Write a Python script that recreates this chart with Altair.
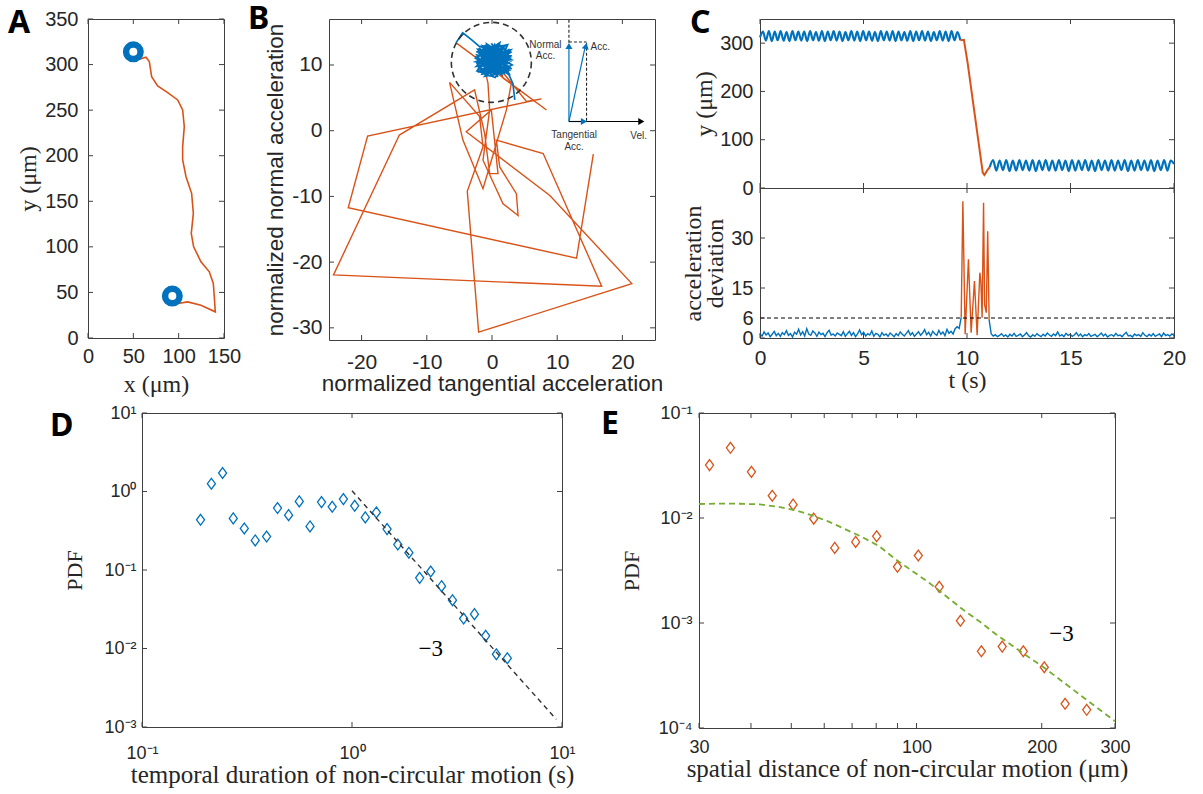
import altair as alt
import pandas as pd
import numpy as np

BLUE = "#0072BD"
ORANGE = "#D95319"
GREEN = "#77AC30"
INK = "#262626"
FRAME = "#404040"
SANS = "Liberation Sans"
SERIF = "Liberation Serif"
LETTER = "Noto Sans"

# ---------------- Panel A : trajectory ----------------
a_path_x = [56.6, 63.9, 67.6, 70.2, 76.8, 87.9, 98.9, 104.4, 106.2, 104.4, 104.4, 108.1, 114.3,
            116.2, 113.9, 116.5, 124.6, 133.8, 138.2, 139.3, 140.4, 124.6, 110.0, 98.9, 102.6]
a_path_y = [305.9, 308.1, 303.3, 286.8, 276.6, 269.2, 261.2, 250.2, 231.9, 209.9, 195.3, 177.0, 158.7,
            136.7, 114.7, 100.1, 83.6, 72.6, 59.8, 45.2, 28.7, 36.0, 39.6, 37.8, 48.8]
a_ring_x = [50, 93]
a_ring_y = [314, 46]
a_xticks = [0, 50, 100, 150]
a_yticks = [0, 50, 100, 150, 200, 250, 300, 350]

# ---------------- Panel B : acceleration plane ----------------
b_orange_x = [-5.49, 8.36, 1.69, 0.92, -1.38, -0.62, -0.36, -1.38, 1.69, 4.0, 3.74, 1.18, 0.67, 7.85,
              16.82, -24.31, -14.21, -2.67, -1.13, -0.36, 0.92, -0.10, -3.95, 8.87, 21.44, -2.05,
              -3.79, -1.38, -1.90, -6.51, -4.46, -1.38, 0.67, 2.21, 2.97, 0.92, 5.28, 7.59, -19.08,
              -22.05, 12.97, 15.54]
b_orange_y = [13.37, 3.16, 8.01, 10.82, 10.56, 7.24, 3.16, -4.49, -11.12, -12.91, -9.59, -5.51, -1.43,
              -3.47, -23.67, -21.94, -0.66, 6.22, -0.41, -6.53, -6.53, 3.16, -0.15, -9.85, -23.27,
              -30.66, -9.23, -2.45, 2.14, 7.35, -1.43, -8.83, -1.94, 3.16, 7.24, 9.80, 4.44, 4.85,
              -0.82, -11.73, -19.39, -3.57]
b_blue_x = [3.5, 3.2, 2.6, -2.0, 2.6, -1.5, 1.8, -2.4, 3.0, -0.8, 0.9, -2.2, 2.8, -1.0, 2.0, -2.5,
            1.2, -0.2, 3.1, -1.8, 2.3, -2.1, 0.4, 1.5, -1.2, 2.9, -0.6, -2.3, 2.4, 0.0, 1.9, -1.6,
            2.7, -0.4, 1.0, -2.0, 2.2, 0.6, -1.3, 3.0, -0.9, 1.6, -2.4, 0.8, 2.5, -1.1, 1.3, -0.3,
            2.0, -1.7, 0.2, 1.4, -1.9, -3.2, -4.5, -5.5]
b_blue_y = [4.7, 7.2, 8.5, 11.8, 9.2, 8.6, 12.9, 10.2, 10.8, 13.2, 8.2, 12.4, 11.9, 9.0, 8.7, 11.0,
            13.4, 8.4, 10.0, 12.9, 9.6, 9.4, 13.1, 8.4, 11.6, 12.3, 8.8, 11.5, 10.4, 12.8, 9.0, 10.0,
            11.2, 12.0, 9.3, 10.8, 12.6, 8.6, 13.0, 9.4, 10.2, 11.6, 12.0, 12.2, 8.9, 8.3, 10.9, 11.3,
            10.0, 11.2, 9.7, 12.4, 12.8, 13.9, 14.9, 13.4]
b_blob_x = [2.1, -2.3, 0.5, 2.9, -1.4, 1.1, -2.6, 2.6, -0.1, 1.7, -2.2, 3.0, -0.7, 0.3, 2.4, -1.9,
            1.5, -0.5, 2.8, -2.4, 0.9, 1.8, -1.2, 2.2, -2.0, 0.1, 2.7, -1.5, 1.2, -0.8, 2.5, -2.5,
            0.7, 1.9, -1.0, 3.0, -2.1, 0.4, 2.3, -1.6]
b_blob_y = [13.0, 9.1, 8.1, 11.4, 12.9, 9.5, 11.3, 8.7, 13.3, 10.4, 8.9, 12.0, 10.6, 8.6, 13.1, 12.2,
            8.5, 9.9, 10.3, 9.8, 12.7, 11.0, 8.6, 9.3, 12.6, 10.9, 12.4, 8.9, 13.2, 11.8, 9.6, 10.5,
            11.7, 8.8, 13.1, 10.6, 11.9, 9.2, 12.1, 10.7]
b_circle_x = [-0.1]
b_circle_y = [10.4]
b_xticks = [-20, -10, 0, 10, 20]
b_yticks = [-30, -20, -10, 0, 10]
# inset sketch (segments in data units of panel B)
ins_x1 = [11.8, 11.8, 14.5, 11.8, 11.8, 11.8, 11.8]
ins_y1 = [13.4, 13.5, 13.4, 1.4, 1.4, 1.4, 1.4]
ins_x2 = [11.8, 14.5, 14.5, 11.8, 14.3, 14.0, 22.8]
ins_y2 = [16.9, 13.5, 1.4, 12.8, 12.8, 1.4, 1.4]
ins_kind = ["dash", "dash", "dash", "blue", "blue", "blue", "black"]
head_x = [11.8, 14.4, 14.1, 22.9]
head_y = [12.9, 12.9, 1.4, 1.4]
head_shape = ["triangle-up", "triangle-up", "triangle-right", "triangle-right"]
head_angle = [0, 12, 0, 0]
head_kind = ["blue", "blue", "blue", "black"]
ins_text = ["Normal", "Acc.", "Acc.", "Tangential", "Acc.", "Vel."]
ins_tx = [8.2, 8.2, 16.6, 12.6, 12.6, 22.5]
ins_ty = [13.1, 11.3, 12.7, -0.7, -2.5, -0.8]

# ---------------- Panel C : time series ----------------
c_wave1 = [312, 324, 305, 325, 304, 324, 306, 325, 305, 323,
           304, 325, 306, 324, 305, 324, 304, 325, 306, 323,
           305, 325, 304, 324, 306, 325, 305, 324, 304, 323,
           306, 325, 305, 324, 304, 325, 306, 324, 305, 323,
           304, 325, 306, 324, 305, 325, 304, 324, 306, 323,
           305, 325, 304, 324, 306, 325, 305, 324, 304, 323,
           306, 325, 305, 324, 304, 325, 306, 323, 306]
c_wave1_t = [0.0, 9.68]
c_drop_t = [9.68, 9.85, 10.03, 10.76, 10.84, 11.0, 11.1]
c_drop_y = [306, 307, 259, 32, 27, 38, 43]
c_wave2 = [43, 58, 36, 57, 37, 58, 35, 57, 36, 58,
           37, 57, 36, 58, 35, 57, 37, 58, 36, 57,
           36, 58, 37, 57, 35, 58, 36, 57, 37, 58,
           36, 57, 35, 58, 37, 57, 36, 58, 36, 57,
           37, 58, 35, 57, 36, 58, 37, 57, 36, 58,
           35, 57, 37, 58, 36, 57, 50]
c_wave2_t = [11.1, 20.0]
c_noise1 = [1.2, 0.6, 1.8, 0.9, 1.5, 0.4, 1.1, 2.0, 0.7, 1.4, 0.5, 1.6, 1.0, 2.2, 0.8, 1.3, 0.3, 1.7,
            1.1, 2.6, 0.9, 1.9, 0.6, 2.8, 1.2, 0.8, 2.1, 1.5, 0.5, 1.8, 1.0, 1.4, 0.4, 1.6, 2.3, 0.9,
            1.2, 0.6, 1.5, 1.1, 0.7, 1.9, 0.5, 1.3, 2.0, 0.8, 1.6, 0.4, 1.2, 2.4, 1.0, 1.7, 0.6, 1.3,
            0.9, 2.1, 0.5, 1.4, 1.1, 0.3, 1.6, 0.8, 1.2, 0.5, 1.5, 1.0, 0.4, 1.3, 0.7, 1.8, 1.1, 0.6,
            1.4, 2.2, 0.9, 1.6, 0.5, 1.2, 1.9, 0.8, 1.5, 2.5, 1.0, 1.7, 0.6, 2.0, 1.3, 0.8, 2.3, 1.1,
            1.8, 0.7, 2.6, 1.4, 2.0, 1.2, 2.8, 3.4, 2.9, 6.2]
c_noise1_t = [0.0, 9.72]
c_spike_t = [9.72, 9.80, 9.91, 10.07, 10.20, 10.36, 10.49, 10.62, 10.67, 10.73, 10.80, 10.85, 10.93,
             11.00, 11.07]
c_spike_v = [6.2, 41, 1.1, 23.6, 1.6, 17.1, 0.8, 19.6, 17.0, 6.1, 40.6, 10.0, 7.6, 32.0, 5.4]
c_noise2 = [5.4, 1.2, 0.6, 1.0, 0.4, 0.8, 1.3, 0.5, 0.9, 0.3, 1.1, 0.6, 1.4, 0.5, 0.8, 1.2, 0.4, 0.9,
            1.6, 0.7, 0.3, 1.0, 0.5, 1.3, 0.8, 0.4, 1.1, 0.6, 1.5, 0.9, 0.5, 1.2, 0.7, 1.8, 0.6, 1.0,
            0.4, 1.4, 0.8, 1.1, 0.5, 0.9, 1.6, 0.6, 1.2, 0.4, 1.0, 0.7, 1.3, 0.5, 0.8, 1.1, 0.4, 0.9,
            1.5, 0.6, 1.2, 0.3, 0.8, 1.0, 0.5, 1.4, 0.7, 0.9, 0.4, 1.1, 1.7, 0.6, 0.8, 0.3, 1.2, 0.7,
            1.0, 0.5, 1.6, 0.8, 0.4, 1.1, 0.6, 1.3, 0.5, 0.9, 1.2, 0.4, 1.5, 0.7, 1.0, 0.6, 1.2, 0.8]
c_noise2_t = [11.07, 20.0]
c_thresh_t = [0, 20]
c_thresh_v = [6, 6]
c_xticks = [0, 5, 10, 15, 20]
c_top_yticks = [0, 100, 200, 300]
c_bot_yticks = [0, 6, 15, 30]

# ---------------- Panel D : duration PDF ----------------
d_x = [0.190, 0.214, 0.242, 0.272, 0.307, 0.346, 0.392, 0.442, 0.499, 0.561, 0.631, 0.716, 0.805,
       0.910, 1.03, 1.157, 1.306, 1.469, 1.652, 1.866, 2.10, 2.37, 2.67, 3.01, 3.40, 3.83, 4.33,
       4.87, 5.49]
d_y = [0.436, 1.256, 1.72, 0.454, 0.338, 0.238, 0.267, 0.615, 0.500, 0.748, 0.359, 0.733, 0.639,
       0.800, 0.658, 0.468, 0.541, 0.332, 0.211, 0.166, 0.0794, 0.0957, 0.0622, 0.0412, 0.0241,
       0.0274, 0.0145, 0.00845, 0.00752]
d_fit_x = [1.0, 9.4]
d_fit_y = [1.02, 0.00125]
d_xticks = [0.1, 1, 10]
d_xlabels = ["10\u207b\u00b9", "10\u2070", "10\u00b9"]
d_yticks = [0.001, 0.01, 0.1, 1, 10]
d_ylabels = ["10\u207b\u00b3", "10\u207b\u00b2", "10\u207b\u00b9", "10\u2070", "10\u00b9"]
d_note = ["\u22123"]
d_note_x = [2.37]
d_note_y = [0.0098]

# ---------------- Panel E : distance PDF ----------------
e_x = [31.8, 35.7, 40.1, 45.0, 50.5, 56.6, 63.6, 71.4, 80.2, 90.0, 101, 113.4, 127.5, 143.2, 160.7,
       180.6, 202.8, 227.6, 256.5]
e_y = [0.0319, 0.0466, 0.0275, 0.0163, 0.0134, 0.00986, 0.00519, 0.00592, 0.00670, 0.00343, 0.00439,
       0.00221, 0.00105, 0.000538, 0.000596, 0.000538, 0.000379, 0.000170, 0.000149]
e_fit_x = [30.0, 33.6, 37.5, 41.9, 46.7, 51.2, 56.1, 61.5, 67.5, 74.0, 81.2, 89.1, 97.7, 107.2,
           117.6, 129.0, 141.5, 155.2, 170.3, 186.8, 202.8, 227.6, 256.5, 300.0]
e_fit_y = [0.01360, 0.01370, 0.01367, 0.01349, 0.01274, 0.01183, 0.01061, 0.00923, 0.00780, 0.00659,
           0.00541, 0.00404, 0.00313, 0.00242, 0.00181, 0.00135, 0.00104, 0.00078, 0.000604,
           0.000468, 0.000375, 0.000265, 0.000185, 0.000116]
e_xticks = [30, 100, 200, 300]
e_minor = [30, 40, 50, 60, 70, 80, 90, 100, 200, 300]
e_yticks = [0.0001, 0.001, 0.01, 0.1]
e_ylabels = ["10\u207b\u2074", "10\u207b\u00b3", "10\u207b\u00b2", "10\u207b\u00b9"]
e_note = ["\u22123"]
e_note_x = [223]
e_note_y = [0.000787]


# ---------------- helpers ----------------
def sup_expr(vals, labs):
    expr = "'" + labs[-1] + "'"
    for v, lab, vn in reversed(list(zip(vals[:-1], labs[:-1], vals[1:]))):
        thr = (v * vn) ** 0.5
        expr = "datum.value < %g ? '%s' : (%s)" % (thr, lab, expr)
    return expr


def axis(values, title, lsize, tsize, tfont, lpad, tpad, **kw):
    return alt.Axis(values=values, title=title, labelFont=SANS, labelFontSize=lsize, labelColor=INK,
                    titleFont=tfont, titleFontSize=tsize, titleColor=INK, titleFontWeight="normal",
                    ticks=False, domain=False, grid=False, labelOverlap=False, labelFlush=False,
                    labelPadding=lpad, titlePadding=tpad, **kw)


NOAXIS = dict(labels=False, ticks=False, domain=False, grid=False, title="")


def X(f, sc, ax=None):
    return alt.X(f, scale=sc, axis=ax) if ax is not None else alt.X(f, scale=sc)


def Y(f, sc, ax=None):
    return alt.Y(f, scale=sc, axis=ax) if ax is not None else alt.Y(f, scale=sc)


def inward_ticks(xvals, yvals, xsc, ysc, w, h, L=5):
    out = []
    if xvals is not None:
        d = pd.DataFrame({"tv": xvals})
        for y1, y2 in ((h, h - L), (0, L)):
            out.append(alt.Chart(d).mark_rule(color=FRAME, strokeWidth=1).encode(
                x=X("tv:Q", xsc), y=alt.value(y1), y2=alt.value(y2)))
    if yvals is not None:
        d = pd.DataFrame({"tv": yvals})
        for x1, x2 in ((0, L), (w - L, w)):
            out.append(alt.Chart(d).mark_rule(color=FRAME, strokeWidth=1).encode(
                y=Y("tv:Q", ysc), x=alt.value(x1), x2=alt.value(x2)))
    return out


def letter(txt, dx, dy):
    return alt.TitleParams(text=txt, anchor="start", frame="group", orient="top", offset=0,
                           dx=dx, dy=dy, baseline="alphabetic", font=LETTER, fontSize=32,
                           fontWeight="bold", color="black")


# ---------------- Panel A chart ----------------
WA, HA = 136, 319
a_xs = alt.Scale(domain=[0, 150], nice=False, zero=False)
a_ys = alt.Scale(domain=[0, 350], nice=False, zero=False)
a_df = pd.DataFrame({"x": a_path_x, "y": a_path_y, "i": list(range(len(a_path_x)))})
a_line = alt.Chart(a_df).mark_line(color=ORANGE, strokeWidth=1.6).encode(
    x=X("x:Q", a_xs, axis(a_xticks, "x (\u03bcm)", 20, 24, SERIF, 8, 6)),
    y=Y("y:Q", a_ys, axis(a_yticks, "y (\u03bcm)", 20, 24, SERIF, 10, 4)),
    order="i:Q")
a_rings = alt.Chart(pd.DataFrame({"x": a_ring_x, "y": a_ring_y})).mark_point(
    shape="circle", filled=False, color=BLUE, strokeWidth=6.5, size=210, opacity=1).encode(
    x=X("x:Q", a_xs), y=Y("y:Q", a_ys))
panelA = alt.layer(a_line, a_rings, *inward_ticks(a_xticks, a_yticks, a_xs, a_ys, WA, HA)).properties(
    width=WA, height=HA, title=letter("A", -80, 56))

# ---------------- Panel B chart ----------------
WB, HB = 326, 321
b_xs = alt.Scale(domain=[-25, 25], nice=False, zero=False)
b_ys = alt.Scale(domain=[-31.85, 17], nice=False, zero=False)
hyph = "replace(datum.label, '\u2212', '-')"
b_or = pd.DataFrame({"x": b_orange_x, "y": b_orange_y, "i": list(range(len(b_orange_x)))})
bx = b_blue_x[:30] + b_blob_x + b_blue_x[30:]
by = b_blue_y[:30] + b_blob_y + b_blue_y[30:]
b_bl = pd.DataFrame({"x": bx, "y": by, "i": list(range(len(bx)))})
b_orange = alt.Chart(b_or).mark_line(color=ORANGE, strokeWidth=1.4).encode(
    x=X("x:Q", b_xs, axis(b_xticks, "normalized tangential acceleration", 21, 22.5, SANS, 11, 0,
                          labelExpr=hyph)),
    y=Y("y:Q", b_ys, axis(b_yticks, "normalized normal acceleration", 21, 22.5, SANS, 7, 4,
                          labelExpr=hyph)),
    order="i:Q")
b_blue = alt.Chart(b_bl).mark_line(color=BLUE, strokeWidth=1.7).encode(
    x=X("x:Q", b_xs), y=Y("y:Q", b_ys), order="i:Q")
b_circ = alt.Chart(pd.DataFrame({"x": b_circle_x, "y": b_circle_y})).mark_point(
    shape="circle", filled=False, color="#333333", strokeWidth=1.6, strokeDash=[6, 4], size=6400,
    opacity=1).encode(x=X("x:Q", b_xs), y=Y("y:Q", b_ys))
ins_df = pd.DataFrame({"x": ins_x1, "y": ins_y1, "x2": ins_x2, "y2": ins_y2, "k": ins_kind})
ins_dash = alt.Chart(ins_df).transform_filter("datum.k == 'dash'").mark_rule(
    color="#222222", strokeWidth=1.1, strokeDash=[3, 2]).encode(
    x=X("x:Q", b_xs), y=Y("y:Q", b_ys), x2="x2:Q", y2="y2:Q")
ins_blue = alt.Chart(ins_df).transform_filter("datum.k == 'blue'").mark_rule(
    color=BLUE, strokeWidth=1.2).encode(
    x=X("x:Q", b_xs), y=Y("y:Q", b_ys), x2="x2:Q", y2="y2:Q")
ins_black = alt.Chart(ins_df).transform_filter("datum.k == 'black'").mark_rule(
    color="black", strokeWidth=1.2).encode(
    x=X("x:Q", b_xs), y=Y("y:Q", b_ys), x2="x2:Q", y2="y2:Q")
heads_df = pd.DataFrame({"x": head_x, "y": head_y, "s": head_shape, "a": head_angle, "k": head_kind})
heads = alt.Chart(heads_df).mark_point(filled=True, size=50, opacity=1).encode(
    x=X("x:Q", b_xs), y=Y("y:Q", b_ys),
    shape=alt.Shape("s:N", scale=None), angle=alt.Angle("a:Q", scale=None),
    color=alt.Color("k:N", scale=alt.Scale(domain=["blue", "black"], range=[BLUE, "black"]), legend=None))
ins_lab = alt.Chart(pd.DataFrame({"x": ins_tx, "y": ins_ty, "t": ins_text})).mark_text(
    font=SANS, fontSize=10, color="#333333").encode(
    x=X("x:Q", b_xs), y=Y("y:Q", b_ys), text="t:N")
panelB = alt.layer(b_orange, b_blue, b_circ, ins_dash, ins_blue, ins_black, heads, ins_lab,
                   *inward_ticks(b_xticks, b_yticks, b_xs, b_ys, WB, HB)).properties(
    width=WB, height=HB, title=letter("B", -81, 42))

# ---------------- Panel C chart ----------------
WC, HC1, HC2 = 414, 169, 150
c_xs = alt.Scale(domain=[0, 20], nice=False, zero=False)
c_ys1 = alt.Scale(domain=[0, 350], nice=False, zero=False)
c_ys2 = alt.Scale(domain=[0, 45], nice=False, zero=False)
w1 = pd.DataFrame({"t": np.linspace(c_wave1_t[0], c_wave1_t[1], len(c_wave1)), "y": c_wave1})
w2 = pd.DataFrame({"t": np.linspace(c_wave2_t[0], c_wave2_t[1], len(c_wave2)), "y": c_wave2})
dr = pd.DataFrame({"t": c_drop_t, "y": c_drop_y})
c_w1 = alt.Chart(w1).mark_line(color=BLUE, strokeWidth=2.2, interpolate="monotone").encode(
    x=X("t:Q", c_xs, alt.Axis(**NOAXIS)),
    y=Y("y:Q", c_ys1, axis(c_top_yticks, "y (\u03bcm)", 20, 24, SERIF, 7, 3)))
c_w2 = alt.Chart(w2).mark_line(color=BLUE, strokeWidth=2.2, interpolate="monotone").encode(
    x=X("t:Q", c_xs), y=Y("y:Q", c_ys1))
c_dr = alt.Chart(dr).mark_line(color=ORANGE, strokeWidth=2).encode(
    x=X("t:Q", c_xs), y=Y("y:Q", c_ys1))
panelC1 = alt.layer(c_w1, c_dr, c_w2, *inward_ticks(c_xticks, c_top_yticks, c_xs, c_ys1, WC, HC1)).properties(
    width=WC, height=HC1, title=letter("C", -70, 46))

n1 = pd.DataFrame({"t": np.linspace(c_noise1_t[0], c_noise1_t[1], len(c_noise1)), "v": c_noise1})
n2 = pd.DataFrame({"t": np.linspace(c_noise2_t[0], c_noise2_t[1], len(c_noise2)), "v": c_noise2})
sp = pd.DataFrame({"t": c_spike_t, "v": c_spike_v})
th = pd.DataFrame({"t": c_thresh_t, "v": c_thresh_v})
c_n1 = alt.Chart(n1).mark_line(color=BLUE, strokeWidth=1.4).encode(
    x=X("t:Q", c_xs, axis(c_xticks, "t (s)", 21, 24, SERIF, 9, 0)),
    y=Y("v:Q", c_ys2, axis(c_bot_yticks, ["acceleration", "deviation"], 20, 24, SERIF, 7, 3,
                           titleLineHeight=22)))
c_n2 = alt.Chart(n2).mark_line(color=BLUE, strokeWidth=1.4).encode(x=X("t:Q", c_xs), y=Y("v:Q", c_ys2))
c_sp = alt.Chart(sp).mark_line(color=ORANGE, strokeWidth=1.4).encode(x=X("t:Q", c_xs), y=Y("v:Q", c_ys2))
c_th = alt.Chart(th).mark_line(color="black", strokeWidth=1.1, strokeDash=[4, 3]).encode(
    x=X("t:Q", c_xs), y=Y("v:Q", c_ys2))
panelC2 = alt.layer(c_n1, c_n2, c_sp, c_th, *inward_ticks(c_xticks, c_bot_yticks, c_xs, c_ys2, WC, HC2)).properties(
    width=WC, height=HC2)
panelC = alt.vconcat(panelC1, panelC2, spacing=0, bounds="flush")

# ---------------- Panel D chart ----------------
WD, HD = 420, 314
DIAMOND = "M0,-1.15L0.85,0L0,1.15L-0.85,0Z"
d_xs = alt.Scale(type="log", domain=[0.1, 10], nice=False)
d_ys = alt.Scale(type="log", domain=[0.001, 10], nice=False)
d_pts = alt.Chart(pd.DataFrame({"x": d_x, "y": d_y})).mark_point(
    shape=DIAMOND, filled=False, color=BLUE, strokeWidth=1.3, size=90, opacity=1).encode(
    x=X("x:Q", d_xs, axis(d_xticks, "temporal duration of non-circular motion (s)", 18, 25, SERIF, 17, 0,
                          labelExpr=sup_expr(d_xticks, d_xlabels))),
    y=Y("y:Q", d_ys, axis(d_yticks, "PDF", 18, 22, SERIF, 6, 17, labelExpr=sup_expr(d_yticks, d_ylabels))))
d_fit = alt.Chart(pd.DataFrame({"x": d_fit_x, "y": d_fit_y})).mark_line(
    color="#333333", strokeWidth=1.4, strokeDash=[5, 4]).encode(x=X("x:Q", d_xs), y=Y("y:Q", d_ys))
d_txt = alt.Chart(pd.DataFrame({"x": d_note_x, "y": d_note_y, "t": d_note})).mark_text(
    font=SERIF, fontSize=23, color="black").encode(x=X("x:Q", d_xs), y=Y("y:Q", d_ys), text="t:N")
panelD = alt.layer(d_pts, d_fit, d_txt, *inward_ticks(d_xticks, d_yticks, d_xs, d_ys, WD, HD)).properties(
    width=WD, height=HD, title=letter("D", -92, 64))

# ---------------- Panel E chart ----------------
WE, HE = 416, 315
e_xs = alt.Scale(type="log", domain=[30, 300], nice=False)
e_ys = alt.Scale(type="log", domain=[0.0001, 0.1], nice=False)
e_pts = alt.Chart(pd.DataFrame({"x": e_x, "y": e_y})).mark_point(
    shape=DIAMOND, filled=False, color=ORANGE, strokeWidth=1.3, size=90, opacity=1).encode(
    x=X("x:Q", e_xs, axis(e_xticks, "spatial distance of non-circular motion (\u03bcm)", 18, 25, SERIF, 10, 0,
                          format="d")),
    y=Y("y:Q", e_ys, axis(e_yticks, "PDF", 18, 22, SERIF, 7, 15, labelExpr=sup_expr(e_yticks, e_ylabels))))
e_fit = alt.Chart(pd.DataFrame({"x": e_fit_x, "y": e_fit_y})).mark_line(
    color=GREEN, strokeWidth=1.8, strokeDash=[6, 4]).encode(x=X("x:Q", e_xs), y=Y("y:Q", e_ys))
e_txt = alt.Chart(pd.DataFrame({"x": e_note_x, "y": e_note_y, "t": e_note})).mark_text(
    font=SERIF, fontSize=23, color="black").encode(x=X("x:Q", e_xs), y=Y("y:Q", e_ys), text="t:N")
panelE = alt.layer(e_pts, e_fit, e_txt, *inward_ticks(e_minor, e_yticks, e_xs, e_ys, WE, HE)).properties(
    width=WE, height=HE, title=letter("E", -98, 62))

# ---------------- layout ----------------
spacer = alt.Chart(pd.DataFrame({"s": [0]})).mark_point(opacity=0).encode(
    x=alt.value(0), y=alt.value(0)).properties(width=1, height=1, view=alt.ViewBackground(stroke="transparent"))

row1 = alt.hconcat(panelA, panelB, panelC, spacing=105, bounds="flush")
rowDE = alt.hconcat(panelD, panelE, spacing=137, bounds="flush")
row2 = alt.hconcat(spacer, rowDE, spacing=53, bounds="flush")

chart = alt.vconcat(row1, row2, spacing=6).properties(
    padding={"left": 7, "top": 2, "right": 5, "bottom": 1},
    background="white",
).configure_view(stroke=FRAME, strokeWidth=1)

chart.save("out.html", embed_options={"renderer": "svg", "actions": False})
